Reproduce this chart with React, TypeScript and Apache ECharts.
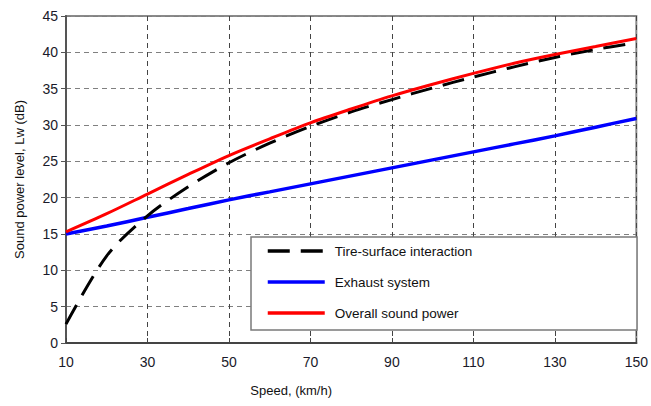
import React, { useEffect, useRef } from "react";
import * as echarts from "echarts";

const speeds = ["10", "20", "30", "40", "50", "60", "70", "80", "90", "100", "110", "120", "130", "140", "150"];
const tireSurface = [2.6, 12, 17.5, 21.5, 24.8, 27.5, 29.8, 31.8, 33.5, 35.1, 36.6, 38, 39.3, 40.4, 41.3];
const exhaust = [15, 16.1, 17.3, 18.5, 19.7, 20.8, 21.9, 23, 24.1, 25.2, 26.3, 27.4, 28.5, 29.7, 30.9];
const overall = [15.3, 17.8, 20.5, 23.2, 25.8, 28.1, 30.3, 32.2, 34, 35.6, 37.1, 38.5, 39.7, 40.8, 41.9];
const seriesNames = ["Tire-surface interaction", "Exhaust system", "Overall sound power"];

export default function App() {
  const ref = useRef<HTMLDivElement>(null);
  useEffect(() => {
    const chart = echarts.init(ref.current!, null, { renderer: "svg" });
    const font = "Liberation Sans, Arial, sans-serif";
    chart.setOption({
      animation: false,
      backgroundColor: "#fff",
      grid: {
        left: 66, right: 13, top: 16, bottom: 63,
        show: true, borderColor: "#8a8a8a", borderWidth: 2, backgroundColor: "transparent",
      },
      xAxis: {
        type: "category",
        data: speeds,
        boundaryGap: false,
        name: "Speed, (km/h)",
        nameLocation: "middle",
        nameGap: 41,
        nameTextStyle: { fontFamily: font, fontSize: 13, color: "#111", padding: [0, 120, 0, 0] },
        axisLine: { lineStyle: { color: "#444", width: 2 } },
        axisTick: { show: true, interval: 1, inside: true, length: 5, lineStyle: { color: "#444" } },
        axisLabel: { interval: 1, margin: 12, fontFamily: font, fontSize: 14, color: "#1a1a2a" },
        splitLine: { show: true, interval: 1, lineStyle: { color: "#444", type: [5, 4], width: 1 } },
      },
      yAxis: {
        type: "value",
        min: 0, max: 45, interval: 5,
        name: "Sound power level, Lw (dB)",
        nameLocation: "middle",
        nameGap: 40,
        nameTextStyle: { fontFamily: font, fontSize: 13, color: "#111" },
        axisLine: { show: true, lineStyle: { color: "#555", width: 2 } },
        axisTick: { show: true, length: 5, lineStyle: { color: "#555" } },
        axisLabel: { margin: 8, fontFamily: font, fontSize: 14, color: "#1a1a2a" },
        splitLine: { show: true, lineStyle: { color: "#808080", type: [5, 4], width: 1 } },
      },
      legend: {
        orient: "vertical",
        left: 261,
        top: 239,
        z: 10,
        itemWidth: 57,
        itemHeight: 14,
        itemGap: 17,
        data: seriesNames,
        itemStyle: { opacity: 0 },
        lineStyle: { width: 3.5 },
        textStyle: { fontFamily: font, fontSize: 13.5, lineHeight: 14, color: "#111", padding: [0, 0, 0, 5] },
      },
      graphic: {
        elements: [
          {
            type: "rect",
            z: 5,
            zlevel: 0,
            shape: { x: 251, y: 237, width: 386, height: 93 },
            style: { fill: "#fff", stroke: "#7a7a7a", lineWidth: 1.5 },
          },
        ],
      },
      series: [
        {
          name: seriesNames[0], type: "line", data: tireSurface, smooth: 0.3, symbol: "none", z: 3,
          lineStyle: { color: "#000", width: 3, type: [22, 11] }, itemStyle: { color: "#000" },
        },
        {
          name: seriesNames[1], type: "line", data: exhaust, smooth: 0.3, symbol: "none", z: 2,
          lineStyle: { color: "#0000ff", width: 3.5 }, itemStyle: { color: "#0000ff" },
        },
        {
          name: seriesNames[2], type: "line", data: overall, smooth: 0.3, symbol: "none", z: 4,
          lineStyle: { color: "#ff0000", width: 3 }, itemStyle: { color: "#ff0000" },
        },
      ],
    });
    return () => chart.dispose();
  }, []);
  return <div ref={ref} style={{ width: 651, height: 406, position: "absolute", left: 0, top: 0 }} />;
}
